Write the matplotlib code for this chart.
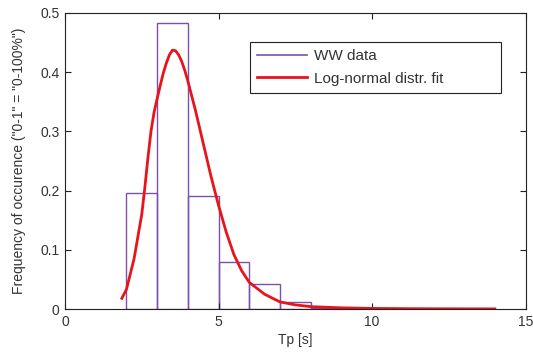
import matplotlib
matplotlib.use("Agg")
import matplotlib.pyplot as plt
from matplotlib.lines import Line2D

plt.rcParams['font.family'] = ['Liberation Sans', 'DejaVu Sans']
plt.rcParams['font.size'] = 10

# histogram of WW data, bins of 1 s
bin_left = [2, 3, 4, 5, 6, 7, 8, 9, 10, 11, 12]
freq = [0.195, 0.482, 0.190, 0.079, 0.043, 0.011, 0.002, 0.001, 0.001, 0.0005, 0.0005]

# log-normal fit
tp = [1.85, 2.0, 2.25, 2.5, 2.6, 2.7, 2.8, 2.9, 3.0, 3.1, 3.2, 3.3, 3.4, 3.5,
      3.6, 3.7, 3.8, 3.9, 4.0, 4.25, 4.5, 4.75, 5.0, 5.25, 5.5, 5.75, 6.0,
      6.5, 7.0, 7.5, 8.0, 9.0, 10.0, 11.0, 12.0, 14.0]
pdf = [0.018, 0.033, 0.085, 0.160, 0.205, 0.255, 0.300, 0.332, 0.355, 0.377,
       0.398, 0.415, 0.429, 0.437, 0.436, 0.429, 0.418, 0.403, 0.385, 0.335,
       0.280, 0.225, 0.175, 0.130, 0.092, 0.065, 0.045, 0.025, 0.012, 0.007,
       0.004, 0.002, 0.001, 0.0006, 0.0004, 0.0002]

txt = '#333333'
purple = '#7b50ab'
red = '#e8141c'

fig = plt.figure(figsize=(5.33, 3.56), dpi=100)
ax = fig.add_axes([0.122, 0.132, 0.864, 0.832])

ax.bar(bin_left, freq, width=1, align='edge', fill=False, edgecolor=purple,
       linewidth=1.0)
ax.plot(tp, pdf, color=red, linewidth=2.0)

ax.set_xlim(0, 15)
ax.set_ylim(0, 0.5)
ax.set_xticks([0, 5, 10, 15])
ax.set_yticks([0, 0.1, 0.2, 0.3, 0.4, 0.5])
ax.set_yticklabels(['0', '0.1', '0.2', '0.3', '0.4', '0.5'])
ax.tick_params(direction='in', top=True, right=True, length=4, width=0.8,
               colors='#222222', labelcolor=txt, labelsize=10, pad=4)
for s in ax.spines.values():
    s.set_color('#222222')
    s.set_linewidth(0.8)

ax.set_xlabel('Tp [s]', color=txt, fontsize=10, labelpad=3)
ax.set_ylabel('Frequency of occurence ("0-1" = "0-100%")', color=txt,
              fontsize=10, labelpad=10)

handles = [Line2D([], [], color=purple, linewidth=1.2),
           Line2D([], [], color=red, linewidth=2.0)]
labels = ['WW data', 'Log-normal distr. fit']
leg = ax.legend(handles, labels, loc='upper left',
                bbox_to_anchor=(0.402, 0.0, 0.544, 0.9), mode='expand',
                borderaxespad=0, fancybox=False, framealpha=1,
                edgecolor='#222222', handlelength=3.3, labelspacing=0.55,
                borderpad=0.45, handletextpad=0.45, fontsize=11)
leg.get_frame().set_linewidth(0.8)
for t in leg.get_texts():
    t.set_color(txt)

fig.savefig('out.png', dpi=100)
